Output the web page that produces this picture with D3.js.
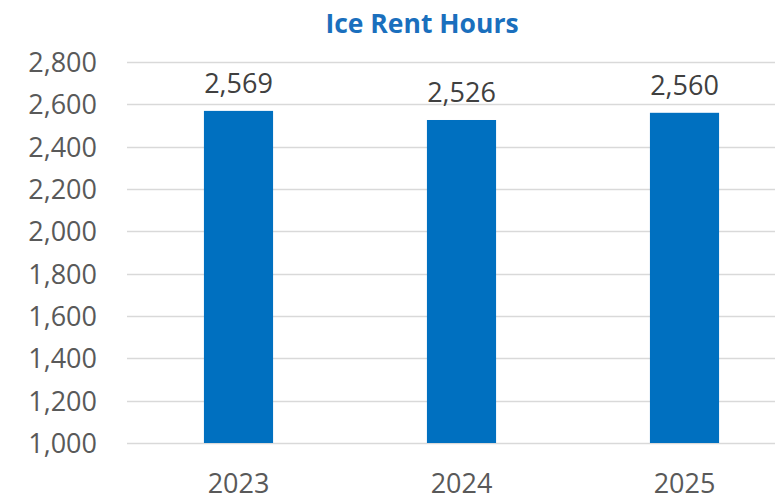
<!DOCTYPE html>
<html>
<head>
<meta charset="utf-8">
<script src="https://cdn.jsdelivr.net/npm/d3@7"></script>
<style>
html,body{margin:0;padding:0;background:#fff;overflow:hidden;}
svg{display:block;}
</style>
</head>
<body>
<svg id="chart" width="775" height="500"></svg>
<script>
const title = "Ice Rent Hours";
const categories = ["2023", "2024", "2025"];
const values = [2569, 2526, 2560];
const yTicks = [1000, 1200, 1400, 1600, 1800, 2000, 2200, 2400, 2600, 2800];

(function () {
const svg = d3.select("#chart");
const font = "'Open Sans', sans-serif";
const plotLeft = 127, plotRight = 796, plotTop = 62, plotBottom = 443;

const x = d3.scaleBand().domain(categories).range([plotLeft, plotRight]).paddingInner(0.69).paddingOuter(0.345);
const y = d3.scaleLinear().domain([1000, 2800]).range([plotBottom, plotTop]);
const fmt = d3.format(",");

// gridlines
svg.append("g").selectAll("line").data(yTicks).join("line")
  .attr("x1", plotLeft).attr("x2", 775)
  .attr("y1", d => Math.round(y(d)) + 0.5).attr("y2", d => Math.round(y(d)) + 0.5)
  .attr("stroke", "#d9d9d9").attr("stroke-width", 1.3);

// y axis labels
const yAxis = d3.axisLeft(y).tickValues(yTicks).tickFormat(fmt).tickSize(0).tickPadding(0);
const gy = svg.append("g").attr("transform", "translate(97,0)").call(yAxis);
gy.select(".domain").remove();
gy.selectAll("text").attr("fill", "#595959").style("font-family", font).style("font-size", "27px").attr("dy", "0.35em");

// bars
svg.append("g").selectAll("rect").data(values).join("rect")
  .attr("x", (d, i) => x(categories[i]))
  .attr("width", x.bandwidth())
  .attr("y", d => y(d))
  .attr("height", d => y(1000) - y(d))
  .attr("fill", "#0070C0");

// data labels
svg.append("g").selectAll("text").data(values).join("text")
  .attr("x", (d, i) => x(categories[i]) + x.bandwidth() / 2)
  .attr("y", d => y(d) - 18)
  .attr("text-anchor", "middle")
  .attr("fill", "#404040")
  .style("font-family", font).style("font-size", "27px")
  .text(d => fmt(d));

// x axis labels
const xAxis = d3.axisBottom(x).tickSize(0).tickPadding(0);
const gx = svg.append("g").attr("transform", "translate(0,493)").call(xAxis);
gx.select(".domain").remove();
gx.selectAll("text").attr("fill", "#595959").attr("dy", "0").style("font-family", font).style("font-size", "27px");

// title
svg.append("text").attr("x", 422).attr("y", 33).attr("text-anchor", "middle")
  .attr("fill", "#1A6FBD").style("font-family", font).style("font-size", "26.5px").style("font-weight", "bold")
  .text(title);
})();
</script>
</body>
</html>
